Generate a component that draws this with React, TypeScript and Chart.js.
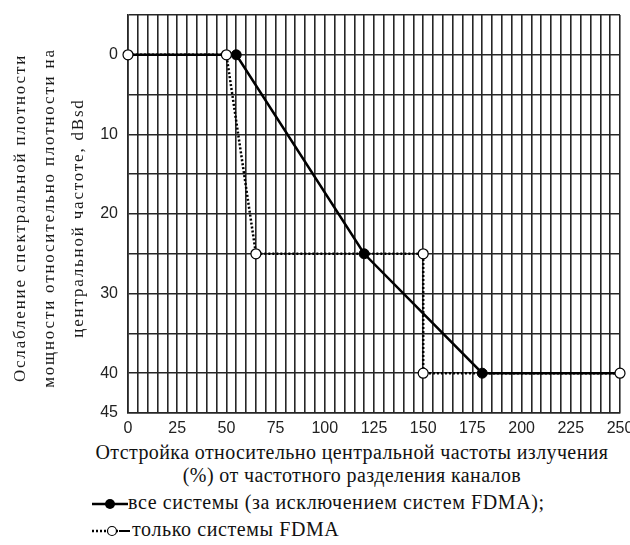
import React, { useEffect, useRef } from "react";
import { Chart, registerables } from "chart.js";

Chart.register(...registerables);

// Series: all systems (except FDMA)
const allX = [0, 55, 120, 180, 250];
const allY = [0, 0, 25, 40, 40];
const allRadius = [0, 5, 5, 5, 0];

// Series: FDMA systems only
const fdmaX = [0, 50, 65, 150, 150, 250];
const fdmaY = [0, 0, 25, 25, 40, 40];

const xTickLabels = [0, 25, 50, 75, 100, 125, 150, 175, 200, 225, 250];
const yTickLabels = [0, 10, 20, 30, 40, 45];

const yTitle = [
  "Ослабление спектральной плотности",
  "мощности относительно плотности на",
  "центральной частоте, dBsd",
];
const xTitle1 = "Отстройка относительно центральной частоты излучения";
const xTitle2 = "(%) от частотного разделения каналов";
const legendAll = "все системы (за исключением систем FDMA);";
const legendFdma = "только системы FDMA";

const GRID = "#262626";
const serif = '"Liberation Serif", "Times New Roman", serif';

const yTitlePlugin = {
  id: "yTitleSpaced",
  afterDraw(chart: any) {
    const ctx = chart.ctx as CanvasRenderingContext2D;
    ctx.save();
    ctx.translate(21, 218);
    ctx.rotate(-Math.PI / 2);
    ctx.font = `17px ${serif}`;
    (ctx as any).letterSpacing = "1.8px";
    ctx.fillStyle = "#1a1a1a";
    ctx.textAlign = "center";
    ctx.textBaseline = "middle";
    yTitle.forEach((t, i) => ctx.fillText(t, 0, i * 29));
    ctx.restore();
  },
};

export default function App() {
  const ref = useRef<HTMLCanvasElement | null>(null);

  useEffect(() => {
    if (!ref.current) return;
    const chart = new Chart(ref.current, {
      type: "line",
      data: {
        datasets: [
          {
            label: legendFdma,
            data: fdmaX.map((x, i) => ({ x, y: fdmaY[i] })),
            borderColor: "#000",
            borderWidth: 2.5,
            borderDash: [2, 2],
            pointRadius: 5,
            pointBackgroundColor: "#fff",
            pointBorderColor: "#000",
            pointBorderWidth: 1.2,
            clip: false,
            tension: 0,
          },
          {
            label: legendAll,
            data: allX.map((x, i) => ({ x, y: allY[i] })),
            borderColor: "#000",
            borderWidth: 2.5,
            pointRadius: allRadius,
            pointBackgroundColor: "#000",
            pointBorderColor: "#000",
            pointBorderWidth: 1,
            clip: false,
            tension: 0,
          },
        ],
      },
      options: {
        responsive: false,
        animation: false,
        devicePixelRatio: 1,
        layout: { padding: { left: 0, top: 15, right: 10, bottom: 0 } },
        plugins: { legend: { display: false }, tooltip: { enabled: false } },
        scales: {
          x: {
            type: "linear",
            min: 0,
            max: 250,
            afterFit: (s: any) => {
              s.height = 27;
              s.paddingLeft = 0;
              s.paddingRight = 0;
            },
            grid: { color: GRID, lineWidth: 1.6, drawTicks: false },
            border: { color: GRID, width: 1.6 },
            ticks: {
              stepSize: 5,
              autoSkip: false,
              maxRotation: 0,
              padding: 6,
              color: "#222",
              font: { family: '"Liberation Sans", Arial, sans-serif', size: 16 },
              callback: (v: any) => (xTickLabels.includes(Number(v)) ? String(v) : ""),
            },
          },
          y: {
            type: "linear",
            reverse: true,
            min: -5,
            max: 45,
            afterFit: (s: any) => {
              s.width = 128;
              s.paddingTop = 0;
              s.paddingBottom = 0;
            },
            grid: { color: GRID, lineWidth: 1.6, drawTicks: false },
            border: { color: GRID, width: 1.6 },
            ticks: {
              stepSize: 5,
              autoSkip: false,
              padding: 10,
              color: "#222",
              font: { family: '"Liberation Sans", Arial, sans-serif', size: 16 },
              callback: (v: any) => (yTickLabels.includes(Number(v)) ? String(v) : ""),
            },
          },
        },
      },
      plugins: [yTitlePlugin],
    });
    return () => chart.destroy();
  }, []);

  return (
    <div style={{ position: "absolute", left: 0, top: 0, width: 630, height: 545, background: "#fff", overflow: "hidden" }}>
      <canvas ref={ref} width={630} height={440} style={{ position: "absolute", left: 0, top: 0, display: "block" }} />
      <div
        style={{
          position: "absolute",
          left: 52,
          width: 600,
          top: 441,
          textAlign: "center",
          fontFamily: serif,
          fontSize: 20,
          letterSpacing: "0.4px",
          lineHeight: "23px",
          color: "#111",
          whiteSpace: "pre",
        }}
      >
        <div>{xTitle1}</div>
        <div>{xTitle2}</div>
      </div>
      <div
        style={{
          position: "absolute",
          left: 92,
          top: 489,
          fontFamily: serif,
          fontSize: 20,
          letterSpacing: "0.6px",
          lineHeight: "27px",
          color: "#111",
          whiteSpace: "pre",
        }}
      >
        <div style={{ display: "flex", alignItems: "center" }}>
          <svg width={36} height={27} style={{ display: "block" }}>
            <line x1={0} y1={15} x2={36} y2={15} stroke="#000" strokeWidth={2.5} />
            <circle cx={18} cy={15} r={5} fill="#000" />
          </svg>
          <span>{legendAll}</span>
        </div>
        <div style={{ display: "flex", alignItems: "center" }}>
          <svg width={40} height={27} style={{ display: "block" }}>
            <line x1={0} y1={15} x2={26} y2={15} stroke="#000" strokeWidth={2.5} strokeDasharray="2 2" />
            <line x1={27} y1={15} x2={38} y2={15} stroke="#000" strokeWidth={2} />
            <circle cx={20} cy={15} r={4.5} fill="#fff" stroke="#000" strokeWidth={1.2} />
          </svg>
          <span>{legendFdma}</span>
        </div>
      </div>
    </div>
  );
}
